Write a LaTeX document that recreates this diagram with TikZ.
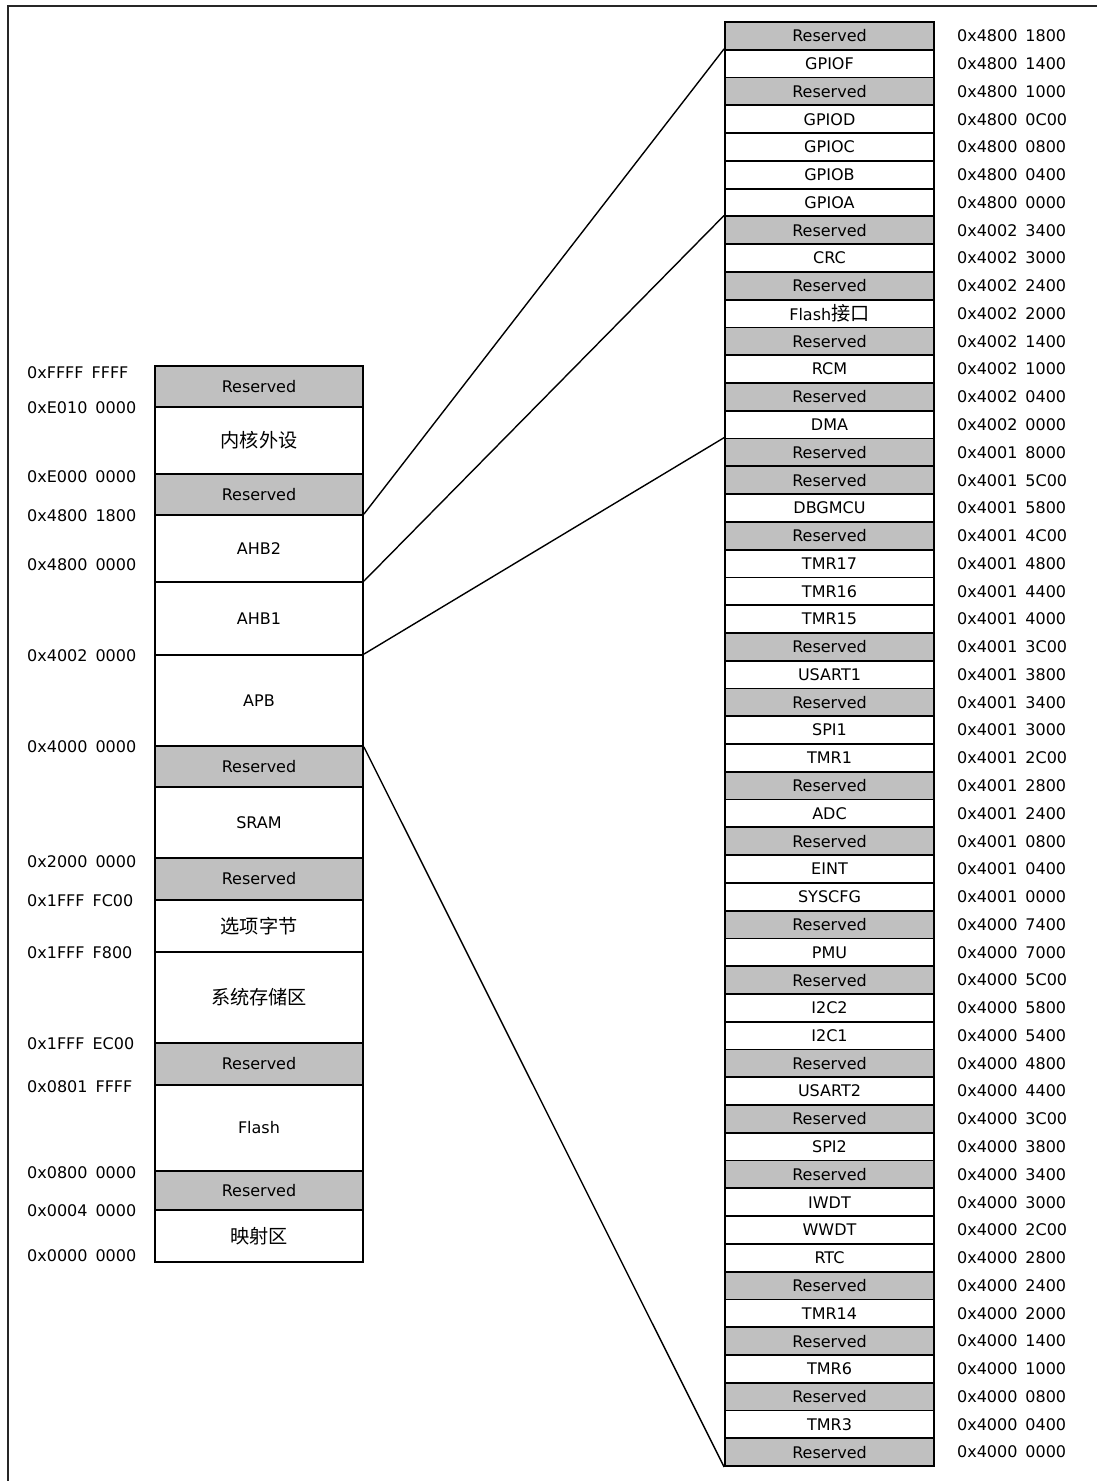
\documentclass[tikz,border=0pt]{standalone}
\usepackage{fontspec}
\setmainfont{DejaVu Sans}
\newfontfamily\cjkfont{Noto Sans CJK SC}[Scale=1.2]
\usetikzlibrary{positioning}
\definecolor{resgray}{RGB}{192,192,192}
\tikzset{%
    mem_block/.style={%
        rectangle, draw=black, line width=1.8pt, minimum width=208pt, inner sep=0pt, text centered, fill=white, font=\fontsize{16}{19}\selectfont
    },
    mem_res/.style={%
        mem_block, fill=resgray
    },
    cell/.style={%
        rectangle, draw=black, line width=1.8pt, minimum width=209pt, minimum height=27.77pt, inner sep=0pt, text centered, font=\fontsize{16}{19}\selectfont
    },
    addr/.style={%
        anchor=west, inner sep=0pt, font=\fontsize{16}{19}\selectfont
    },
    link/.style={%
        line width=1.4pt
    },
    frame/.style={%
        line width=1.6pt, black!85
    },
}

\begin{document}
\begin{tikzpicture}[x=1pt,y=-1pt]
      \useasboundingbox (0,0) rectangle (1097,1481);
      \draw[frame] (8,1481) |- (1097,6);

      % memory map
      \node[mem_res, minimum height=41pt] (res1) at (259,386.5) {Reserved};
      \node[mem_block, minimum height=67pt] (core) at (259,440.5) {\cjkfont 内核外设};
      \node[mem_res, minimum height=41pt] (res2) at (259,494.5) {Reserved};
      \node[mem_block, minimum height=67pt] (ahb2) at (259,548.5) {AHB2};
      \node[mem_block, minimum height=73pt] (ahb1) at (259,618.5) {AHB1};
      \node[mem_block, minimum height=91pt] (apb) at (259,700.5) {APB};
      \node[mem_res, minimum height=41pt] (res3) at (259,766.5) {Reserved};
      \node[mem_block, minimum height=71pt] (sram) at (259,822.5) {SRAM};
      \node[mem_res, minimum height=42pt] (res4) at (259,879) {Reserved};
      \node[mem_block, minimum height=52pt] (optb) at (259,926) {\cjkfont 选项字节};
      \node[mem_block, minimum height=91pt] (sysm) at (259,997.5) {\cjkfont 系统存储区};
      \node[mem_res, minimum height=42pt] (res5) at (259,1064) {Reserved};
      \node[mem_block, minimum height=86pt] (flash) at (259,1128) {Flash};
      \node[mem_res, minimum height=39pt] (res6) at (259,1190.5) {Reserved};
      \node[mem_block, minimum height=52pt] (remap) at (259,1236) {\cjkfont 映射区};

      \foreach \y/\hi/\lo [count=\i] in {373/FFFF/FFFF, 407.5/E010/0000, 477/E000/0000, 516/4800/1800, 564.5/4800/0000, 656/4002/0000, 747/4000/0000, 862/2000/0000, 901/1FFF/FC00, 953/1FFF/F800, 1043.5/1FFF/EC00, 1086.5/0801/FFFF, 1172.5/0800/0000, 1210.5/0004/0000, 1256/0000/0000}
        \node[addr] (la\i) at (27,\y) {0x\hi\enspace\lo};

      % peripheral registers
      \foreach \f/\name/\hi/\lo [count=\i] in {resgray/Reserved/4800/1800, white/GPIOF/4800/1400, resgray/Reserved/4800/1000, white/GPIOD/4800/0C00, white/GPIOC/4800/0800, white/GPIOB/4800/0400, white/GPIOA/4800/0000, resgray/Reserved/4002/3400, white/CRC/4002/3000, resgray/Reserved/4002/2400, white/{Flash{\cjkfont 接口}}/4002/2000, resgray/Reserved/4002/1400, white/RCM/4002/1000, resgray/Reserved/4002/0400, white/DMA/4002/0000, resgray/Reserved/4001/8000, resgray/Reserved/4001/5C00, white/DBGMCU/4001/5800, resgray/Reserved/4001/4C00, white/TMR17/4001/4800, white/TMR16/4001/4400, white/TMR15/4001/4000, resgray/Reserved/4001/3C00, white/USART1/4001/3800, resgray/Reserved/4001/3400, white/SPI1/4001/3000, white/TMR1/4001/2C00, resgray/Reserved/4001/2800, white/ADC/4001/2400, resgray/Reserved/4001/0800, white/EINT/4001/0400, white/SYSCFG/4001/0000, resgray/Reserved/4000/7400, white/PMU/4000/7000, resgray/Reserved/4000/5C00, white/I2C2/4000/5800, white/I2C1/4000/5400, resgray/Reserved/4000/4800, white/USART2/4000/4400, resgray/Reserved/4000/3C00, white/SPI2/4000/3800, resgray/Reserved/4000/3400, white/IWDT/4000/3000, white/WWDT/4000/2C00, white/RTC/4000/2800, resgray/Reserved/4000/2400, white/TMR14/4000/2000, resgray/Reserved/4000/1400, white/TMR6/4000/1000, resgray/Reserved/4000/0800, white/TMR3/4000/0400, resgray/Reserved/4000/0000}{
        \node[cell, fill=\f] (r\i) at (829.5,{22+(\i-0.5)*27.77}) {\name};
        \node[addr, right=22pt of r\i] (a\i) {0x\hi\enspace\lo};
      }

      \draw[link] (ahb2.north east) -- (r2.north west);
      \draw[link] (ahb1.north east) -- (r8.north west);
      \draw[link] (apb.north east) -- (r16.north west);
      \draw[link] (apb.south east) -- (r52.south west);
    \end{tikzpicture}
\end{document}
